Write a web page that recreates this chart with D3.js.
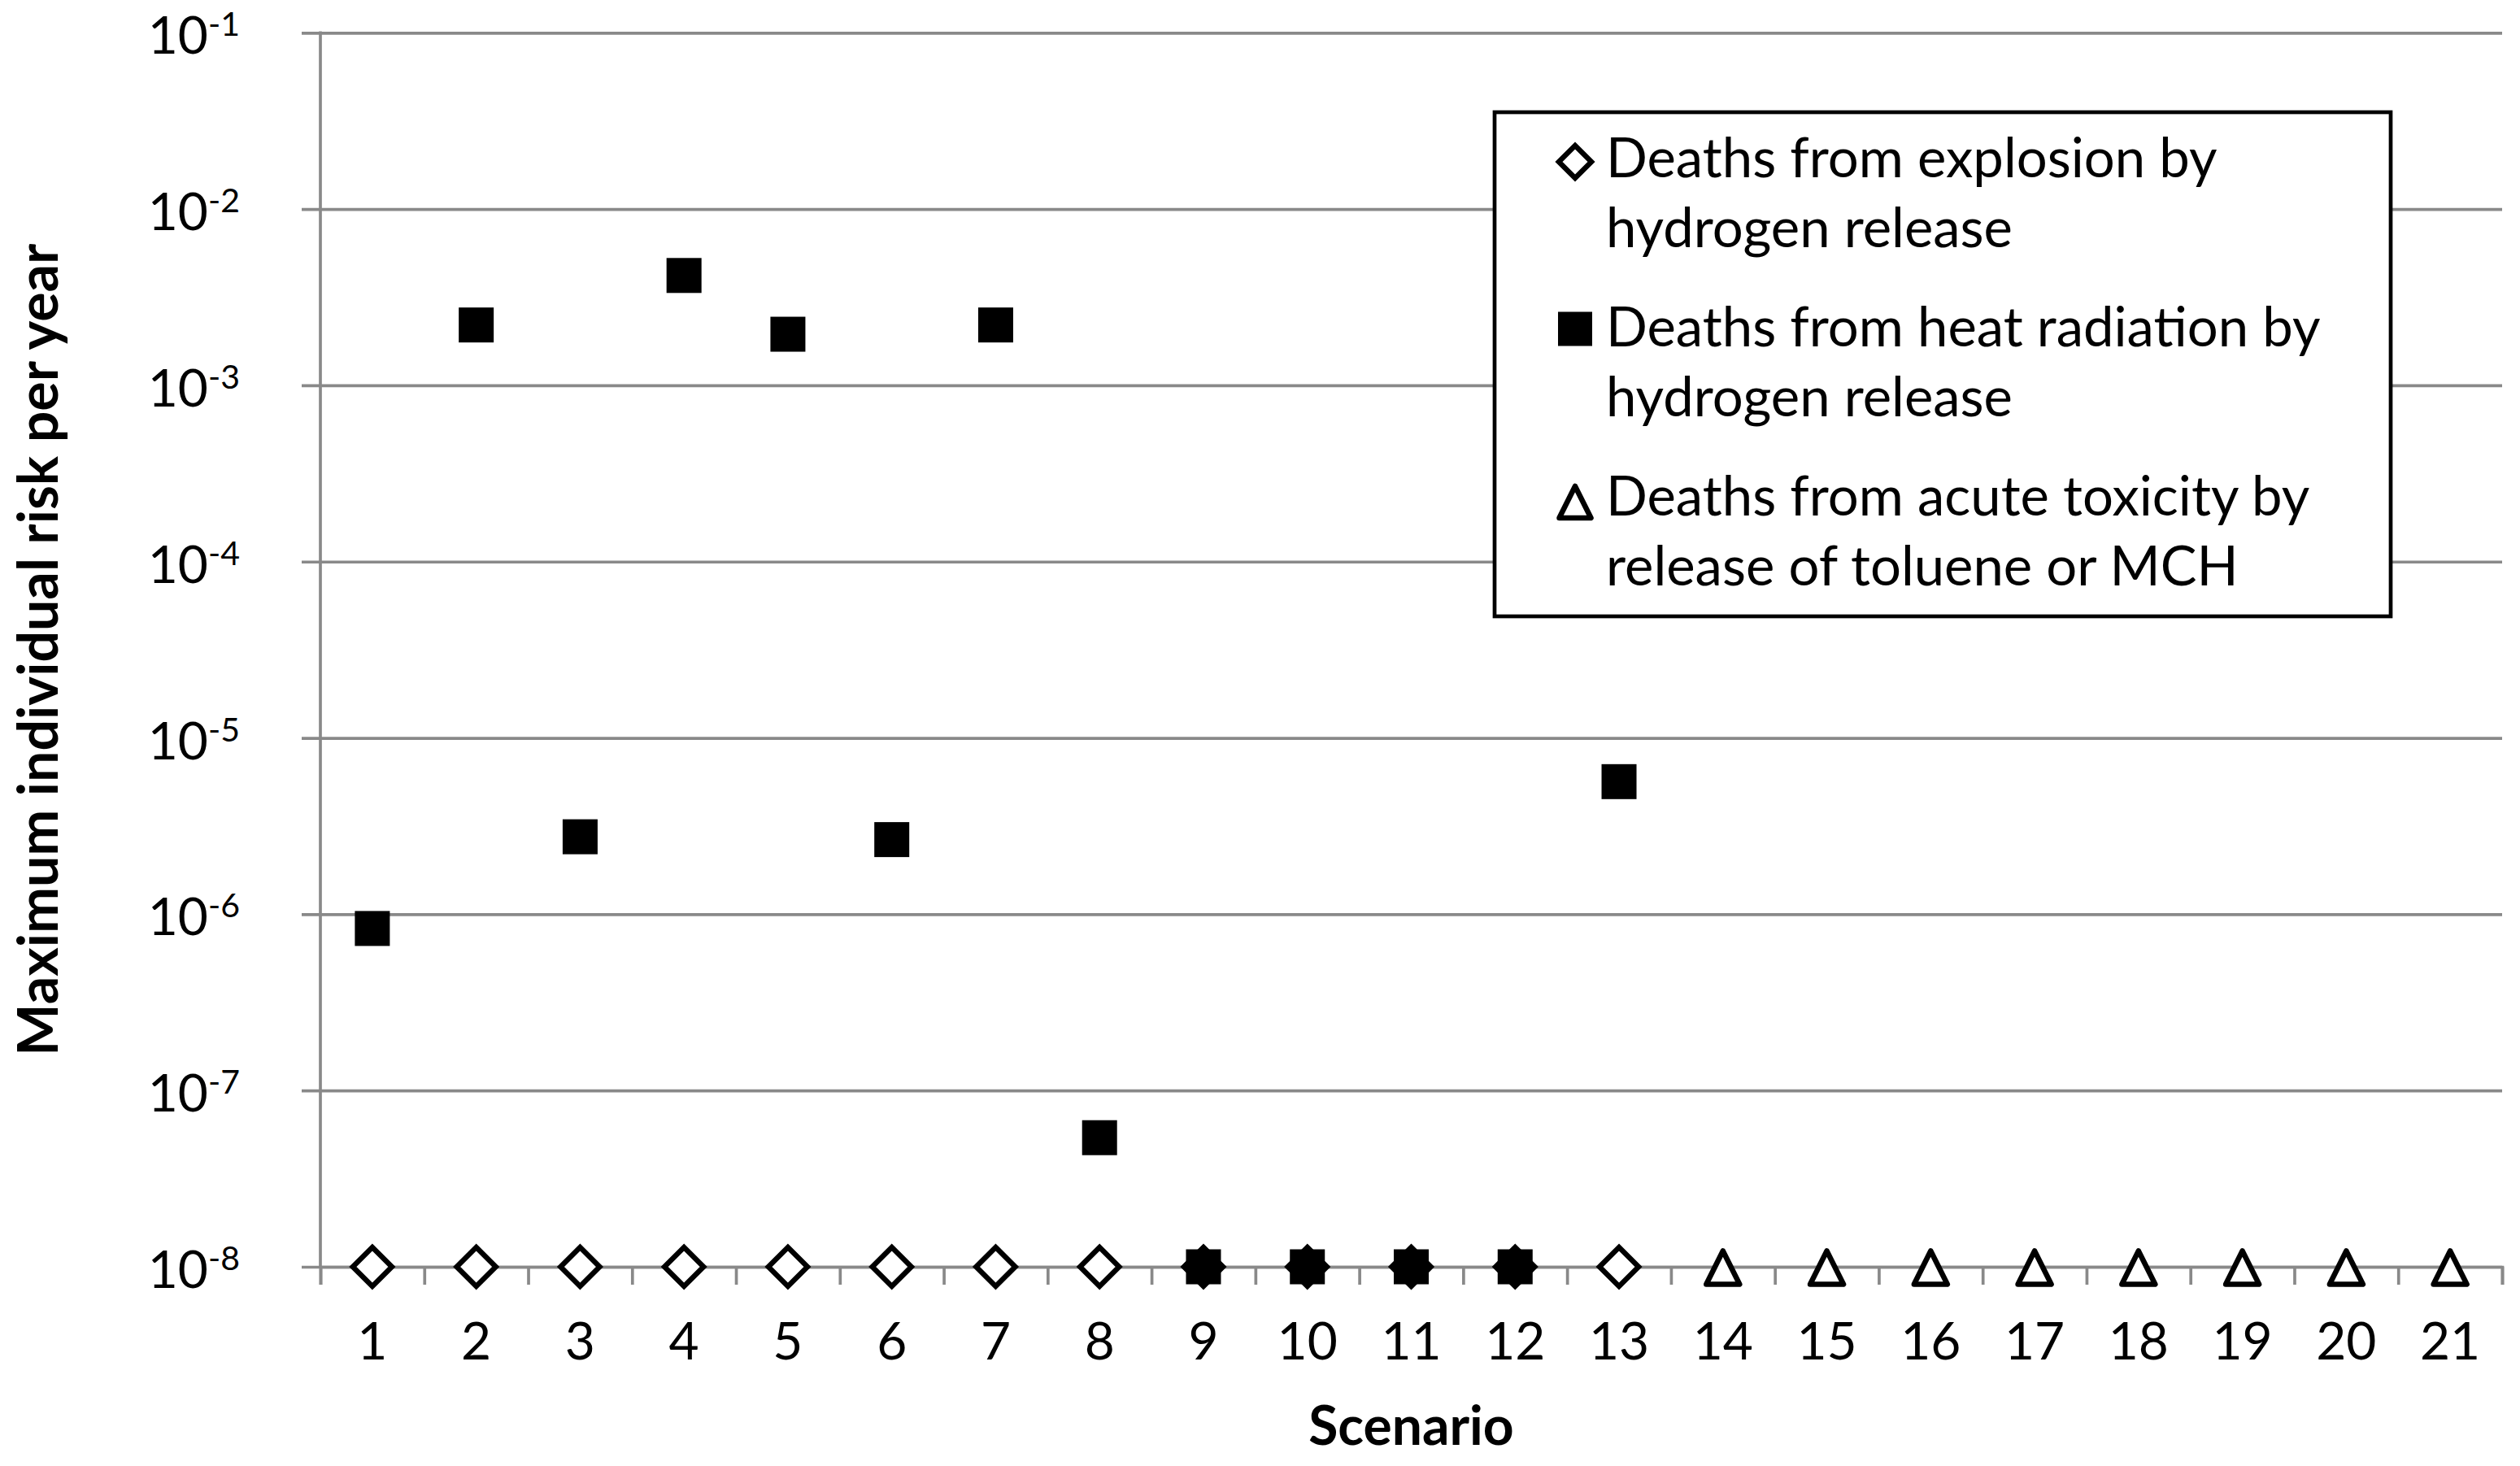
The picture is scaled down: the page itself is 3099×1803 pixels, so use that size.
<!DOCTYPE html>
<html>
<head>
<meta charset="utf-8">
<script src="https://cdn.jsdelivr.net/npm/d3@7"></script>
<style>
  html, body { margin: 0; padding: 0; background: #fff; }
  svg { display: block; font-family: Lato, "Open Sans", sans-serif; }
</style>
</head>
<body>
<div id="chart"></div>
<script>
const scenarios = d3.range(1, 22).map(String);
const explosionScenarios = ["1","2","3","4","5","6","7","8","9","10","11","12","13"];
const explosionValues    = [1e-8,1e-8,1e-8,1e-8,1e-8,1e-8,1e-8,1e-8,1e-8,1e-8,1e-8,1e-8,1e-8];
const heatScenarios = ["1","2","3","4","5","6","7","8","9","10","11","12","13"];
const heatValues    = [8.3e-7, 2.2e-3, 2.75e-6, 4.2e-3, 1.95e-3, 2.65e-6, 2.2e-3, 5.4e-8, 1e-8, 1e-8, 1e-8, 1e-8, 5.65e-6];
const toxicScenarios = ["14","15","16","17","18","19","20","21"];
const toxicValues    = [1e-8,1e-8,1e-8,1e-8,1e-8,1e-8,1e-8,1e-8];
const yTickValues = [1e-8, 1e-7, 1e-6, 1e-5, 1e-4, 1e-3, 1e-2, 1e-1];
const yTickExponents = ["-8", "-7", "-6", "-5", "-4", "-3", "-2", "-1"];
const legendLines = [
  ["Deaths from explosion by", "hydrogen release"],
  ["Deaths from heat radiation by", "hydrogen release"],
  ["Deaths from acute toxicity by", "release of toluene or MCH"]
];
const xTitle = "Scenario";
const yTitle = "Maximum individual risk per year";

const W = 3099, H = 1803;
const plotLeft = 394, plotRight = 3077, plotTop = 40.3, plotBottom = 1558;
const gridColor = "#898989";

const svg = d3.select("#chart").append("svg").attr("width", W).attr("height", H);

const x = d3.scaleBand().domain(scenarios).range([plotLeft, plotRight]).padding(0);
const xEdge = d3.scaleLinear().domain([0, scenarios.length]).range([plotLeft, plotRight]);
const y = d3.scaleLog().domain([1e-8, 1e-1]).range([plotBottom, plotTop]);

// gridlines + short ticks left of the axis
svg.append("g")
  .attr("transform", `translate(${plotRight},0)`)
  .call(d3.axisLeft(y).tickValues(yTickValues).tickSize(plotRight - plotLeft + 23).tickFormat(""))
  .call(g => g.select(".domain").remove())
  .call(g => g.selectAll("line").attr("stroke", gridColor).attr("stroke-width", 3.7));

// y axis line
svg.append("line").attr("x1", plotLeft).attr("x2", plotLeft).attr("y1", plotTop - 1.8).attr("y2", plotBottom)
  .attr("stroke", gridColor).attr("stroke-width", 3.7);

// x axis with boundary ticks
svg.append("g")
  .attr("transform", `translate(0,${plotBottom})`)
  .call(d3.axisBottom(xEdge).ticks(scenarios.length).tickSize(22).tickSizeOuter(22).tickFormat(""))
  .call(g => g.select(".domain").attr("stroke", gridColor).attr("stroke-width", 3.7))
  .call(g => g.selectAll("line").attr("stroke", gridColor).attr("stroke-width", 3.7));

// x labels
svg.append("g")
  .attr("transform", `translate(0,${plotBottom})`)
  .call(d3.axisBottom(x).tickSize(0).tickPadding(0))
  .call(g => g.select(".domain").remove())
  .call(g => g.selectAll("text").attr("dy", null).attr("y", 114)
    .attr("font-family", "Lato").attr("font-size", 64).attr("fill", "#000"));

// y labels: 10 with superscript exponent
const yl = svg.append("g").selectAll("text").data(yTickValues).join("text")
  .attr("x", 295).attr("y", d => y(d) + 26)
  .attr("text-anchor", "end").attr("font-size", 64).attr("fill", "#000");
yl.append("tspan").text("10");
yl.append("tspan").attr("dy", -22).attr("font-size", 41).text((d, i) => yTickExponents[i]);

// markers
const diamond = r => `M0,${-r}L${r},0L0,${r}L${-r},0Z`;
const triangle = s => `M0,${-s / 2}L${s / 2},${s / 2}L${-s / 2},${s / 2}Z`;

svg.append("g").selectAll("path").data(explosionScenarios.map((s, i) => [s, explosionValues[i]])).join("path")
  .attr("transform", d => `translate(${x(d[0]) + x.bandwidth() / 2},${y(d[1])})`)
  .attr("d", diamond(24)).attr("fill", "#fff").attr("stroke", "#000").attr("stroke-width", 6.5);

svg.append("g").selectAll("rect").data(heatScenarios.map((s, i) => [s, heatValues[i]])).join("rect")
  .attr("x", d => x(d[0]) + x.bandwidth() / 2 - 21.5).attr("y", d => y(d[1]) - 21.5)
  .attr("width", 43).attr("height", 43).attr("fill", "#000");

svg.append("g").selectAll("path").data(toxicScenarios.map((s, i) => [s, toxicValues[i]])).join("path")
  .attr("transform", d => `translate(${x(d[0]) + x.bandwidth() / 2},${y(d[1]) + 1})`)
  .attr("d", triangle(41)).attr("fill", "#fff").attr("stroke", "#000").attr("stroke-width", 6.5)
  .attr("stroke-linejoin", "round");

// axis titles
svg.append("text").attr("x", (plotLeft + plotRight) / 2).attr("y", 1777).attr("text-anchor", "middle")
  .attr("font-size", 66).attr("font-weight", "bold").text(xTitle);
svg.append("text").attr("transform", `translate(71,${(plotTop + plotBottom) / 2}) rotate(-90)`)
  .attr("text-anchor", "middle").attr("font-size", 68).attr("font-weight", "bold").text(yTitle);

// legend
const legend = svg.append("g");
legend.append("rect").attr("x", 1838).attr("y", 138).attr("width", 1102).attr("height", 620)
  .attr("fill", "#fff").attr("stroke", "#000").attr("stroke-width", 4.7);
const entryY = [218, 425.5, 633.5];
legendLines.forEach((lines, i) => {
  const t = legend.append("text").attr("font-size", 67).attr("fill", "#000");
  lines.forEach((line, j) => t.append("tspan").attr("x", 1975).attr("y", entryY[i] + j * 86).text(line));
});
legend.append("path").attr("transform", `translate(1937,${entryY[0] - 19})`).attr("d", diamond(20))
  .attr("fill", "#fff").attr("stroke", "#000").attr("stroke-width", 6.5);
legend.append("rect").attr("x", 1937 - 21).attr("y", entryY[1] - 21 - 21).attr("width", 42).attr("height", 42)
  .attr("fill", "#000");
legend.append("path").attr("transform", `translate(1937,${entryY[2] - 16})`).attr("d", triangle(39))
  .attr("fill", "#fff").attr("stroke", "#000").attr("stroke-width", 6.5).attr("stroke-linejoin", "round");
</script>
</body>
</html>
